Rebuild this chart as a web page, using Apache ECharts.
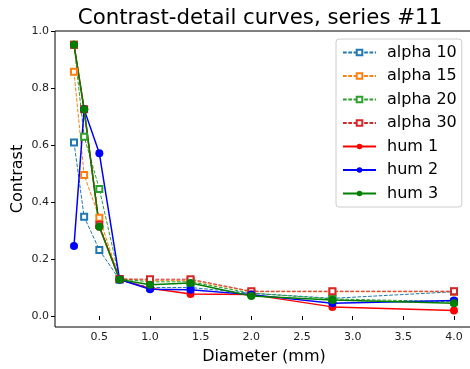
<!DOCTYPE html>
<html>
<head>
<meta charset="utf-8">
<script src="https://cdn.jsdelivr.net/npm/echarts@6/dist/echarts.min.js"></script>
<style>
  html, body { margin: 0; padding: 0; background: #fff; }
  #chart { width: 470px; height: 369px; }
</style>
</head>
<body>
<div id="chart"></div>
<script>
// diameters (mm)
const diameters = [0.25, 0.35, 0.5, 0.7, 1.0, 1.4, 2.0, 2.8, 4.0]

// contrast values per curve
const alpha10 = [0.609, 0.348, 0.232, 0.127, 0.100, 0.100, 0.080, 0.062, 0.085]
const alpha15 = [0.857, 0.495, 0.345, 0.130, 0.125, 0.125, 0.085, 0.085, 0.085]
const alpha20 = [0.952, 0.629, 0.446, 0.130, 0.120, 0.120, 0.080, 0.060, 0.050]
const alpha30 = [0.952, 0.725, 0.320, 0.130, 0.129, 0.129, 0.087, 0.087, 0.087]
const hum1 = [0.952, 0.725, 0.313, 0.128, 0.097, 0.077, 0.075, 0.032, 0.019]
const hum2 = [0.246, 0.725, 0.571, 0.128, 0.094, 0.092, 0.075, 0.045, 0.054]
const hum3 = [0.952, 0.725, 0.313, 0.128, 0.110, 0.116, 0.070, 0.056, 0.045]

const xTicks = [0.5, 1.0, 1.5, 2.0, 2.5, 3.0, 3.5, 4.0]
const yTicks = [0.0, 0.2, 0.4, 0.6, 0.8, 1.0]

const font = 'DejaVu Sans'

const pairs = vals => diameters.map((d, i) => [d, vals[i]])

const dashed = (name, vals, color) => ({
    name: name,
    type: 'line',
    data: pairs(vals),
    symbol: 'emptyRect',
    symbolSize: 6,
    lineStyle: { color: color, width: 1, type: [3.7, 1.6] },
    itemStyle: { color: color, borderColor: color, borderWidth: 1 },
    emphasis: { disabled: true }
})

const solid = (name, vals, color) => ({
    name: name,
    type: 'line',
    data: pairs(vals),
    symbol: 'circle',
    symbolSize: 8,
    lineStyle: { color: color, width: 1.5 },
    itemStyle: { color: color },
    emphasis: { disabled: true }
})

const chart = echarts.init(document.getElementById('chart'))

chart.setOption({
    backgroundColor: '#fff',
    animation: false,
    textStyle: { fontFamily: font },
    title: {
        text: 'Contrast-detail curves, series #11',
        left: 255,
        textAlign: 'center',
        top: 3,
        textStyle: { fontFamily: font, fontSize: 21.3, fontWeight: 'normal', color: '#000' }
    },
    grid: {
        left: 55,
        right: -3,
        top: 31,
        bottom: 42,
        outerBoundsMode: 'none',
        show: true,
        borderColor: '#000',
        borderWidth: 1,
        backgroundColor: 'transparent'
    },
    legend: {
        orient: 'vertical',
        left: 336,
        top: 39,
        padding: [5, 5, 5, 6],
        itemWidth: 33,
        itemHeight: 7,
        itemGap: 6.5,
        backgroundColor: '#fff',
        borderColor: '#ccc',
        borderWidth: 1,
        borderRadius: 3,
        textStyle: { fontFamily: font, fontSize: 16, color: '#000', lineHeight: 17, padding: [0, 0, 0, 6] },
        data: ['alpha 10', 'alpha 15', 'alpha 20', 'alpha 30', 'hum 1', 'hum 2', 'hum 3']
    },
    xAxis: {
        type: 'value',
        min: 0.0625,
        max: 4.1875,
        name: 'Diameter (mm)',
        nameLocation: 'middle',
        nameGap: 22,
        nameTextStyle: { fontFamily: font, fontSize: 16, color: '#000' },
        axisLine: { show: false },
        splitLine: { show: false },
        axisTick: { show: true, inside: false, length: 4, lineStyle: { color: '#000' }, customValues: xTicks },
        axisLabel: {
            fontFamily: font, fontSize: 11, color: '#222', margin: 5,
            customValues: xTicks,
            formatter: v => v.toFixed(1)
        }
    },
    yAxis: {
        type: 'value',
        min: -0.0386,
        max: 1.0,
        name: 'Contrast',
        nameLocation: 'middle',
        nameGap: 29,
        nameMoveOverlap: false,
        nameTextStyle: { fontFamily: font, fontSize: 16, color: '#000' },
        axisLine: { show: false },
        splitLine: { show: false },
        axisTick: { show: true, inside: false, length: 4, lineStyle: { color: '#000' }, customValues: yTicks },
        axisLabel: {
            fontFamily: font, fontSize: 11, color: '#222', margin: 6,
            customValues: yTicks,
            formatter: v => v.toFixed(1)
        }
    },
    series: [
        dashed('alpha 10', alpha10, '#1f77b4'),
        dashed('alpha 15', alpha15, '#ff7f0e'),
        dashed('alpha 20', alpha20, '#2ca02c'),
        dashed('alpha 30', alpha30, '#d62728'),
        solid('hum 1', hum1, '#ff0000'),
        solid('hum 2', hum2, '#0000ff'),
        solid('hum 3', hum3, '#008000')
    ]
})
</script>
</body>
</html>
